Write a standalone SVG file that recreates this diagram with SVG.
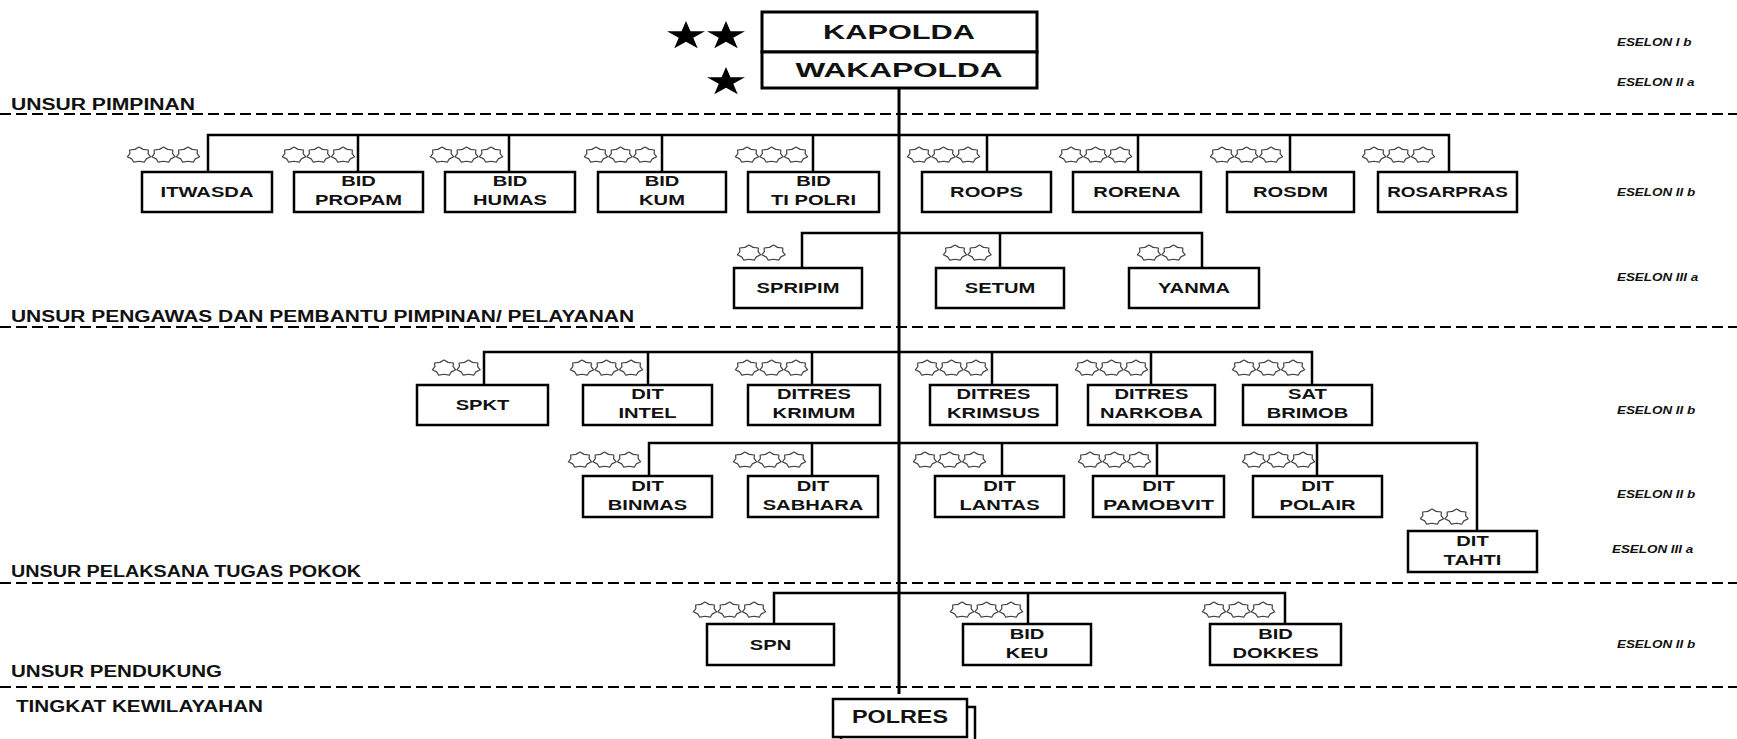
<svg xmlns="http://www.w3.org/2000/svg" xmlns:xlink="http://www.w3.org/1999/xlink" width="1737" height="739" viewBox="0 0 1737 739">
<style>
.bx{fill:#fff;stroke:#000;stroke-width:2.5}
.ln{fill:none;stroke:#000;stroke-width:2.5}
.main{fill:none;stroke:#000;stroke-width:3}
.dash{fill:none;stroke:#000;stroke-width:2;stroke-dasharray:11 5}
.t{font-family:"Liberation Sans",Arial,sans-serif;font-weight:bold;font-size:15.5px;text-anchor:middle;fill:#111}
.big{font-family:"Liberation Sans",Arial,sans-serif;font-weight:bold;font-size:21px;text-anchor:middle;fill:#111}
.sec{font-family:"Liberation Sans",Arial,sans-serif;font-weight:bold;font-size:16px;fill:#111}
.es{font-family:"Liberation Sans",Arial,sans-serif;font-weight:bold;font-style:italic;font-size:11px;fill:#111}
.os{fill:#fff;stroke:#444;stroke-width:1.2;stroke-linejoin:round}
</style>
<defs>
<polygon id="os" class="os" points="0,-8 4.06,-5.62 9.38,-4.99 9.12,-1.39 11.7,1.78 7.32,3.89 5.21,7.21 0,6.24 -5.21,7.21 -7.32,3.89 -11.7,1.78 -9.12,-1.39 -9.38,-4.99 -4.06,-5.62"/>
<polygon id="bs" fill="#000" points="0,-15 4.48,-4.64 18.98,-4.64 7.25,1.77 11.73,12.14 0,5.73 -11.73,12.14 -7.25,1.77 -18.98,-4.64 -4.48,-4.64"/>
</defs>
<rect x="0" y="0" width="1737" height="739" fill="#fff"/>

<g id="sections">
<line class="dash" x1="0" y1="114" x2="1737" y2="114"/>
<line class="dash" x1="0" y1="327" x2="1737" y2="327"/>
<line class="dash" x1="0" y1="583" x2="1737" y2="583"/>
<line class="dash" x1="0" y1="687" x2="1737" y2="687"/>
<text class="sec" x="11" y="110" textLength="184" lengthAdjust="spacingAndGlyphs">UNSUR PIMPINAN</text>
<text class="sec" x="11" y="322" textLength="623" lengthAdjust="spacingAndGlyphs">UNSUR PENGAWAS DAN PEMBANTU PIMPINAN/ PELAYANAN</text>
<text class="sec" x="11" y="577" textLength="350" lengthAdjust="spacingAndGlyphs">UNSUR PELAKSANA TUGAS POKOK</text>
<text class="sec" x="11" y="677" textLength="211" lengthAdjust="spacingAndGlyphs">UNSUR PENDUKUNG</text>
<text class="sec" x="16" y="712" textLength="247" lengthAdjust="spacingAndGlyphs">TINGKAT KEWILAYAHAN</text>
</g>

<g id="eselon">
<text class="es" transform="translate(1617,46) scale(1.22,1)">ESELON I b</text>
<text class="es" transform="translate(1617,86) scale(1.22,1)">ESELON II a</text>
<text class="es" transform="translate(1617,196) scale(1.22,1)">ESELON II b</text>
<text class="es" transform="translate(1617,281) scale(1.22,1)">ESELON III a</text>
<text class="es" transform="translate(1617,414) scale(1.22,1)">ESELON II b</text>
<text class="es" transform="translate(1617,498) scale(1.22,1)">ESELON II b</text>
<text class="es" transform="translate(1612,553) scale(1.22,1)">ESELON III a</text>
<text class="es" transform="translate(1617,648) scale(1.22,1)">ESELON II b</text>
</g>

<g id="connectors">
<line class="main" x1="899" y1="88" x2="899" y2="694"/>
<path class="ln" d="M208,172V135H1449V172M358,135V172M509,135V172M662,135V172M813,135V172M987,135V172M1138,135V172M1290,135V172"/>
<path class="ln" d="M802,268V233H1202V268M1000,233V268"/>
<path class="ln" d="M484,385V352H1312V385M648,352V385M812,352V385M992,352V385M1151,352V385"/>
<path class="ln" d="M649,476V443H1477V531M812,443V476M1002,443V476M1157,443V476M1317,443V476"/>
<path class="ln" d="M774,624V593H1285V624M1028,593V624"/>
</g>

<g id="n-kapolda">
<use href="#bs" x="686" y="36"/>
<use href="#bs" x="726" y="36"/>
<rect class="bx" x="762" y="12" width="275" height="40" style="stroke-width:3"/>
<text class="big" x="899" y="39" textLength="152" lengthAdjust="spacingAndGlyphs">KAPOLDA</text>
</g>
<g id="n-wakapolda">
<use href="#bs" x="726" y="82"/>
<rect class="bx" x="762" y="52" width="275" height="36" style="stroke-width:3"/>
<text class="big" x="899" y="77" textLength="207" lengthAdjust="spacingAndGlyphs">WAKAPOLDA</text>
</g>

<!-- Row 1 -->
<g id="n-itwasda">
<use href="#os" x="139" y="155"/><use href="#os" x="163.5" y="155"/><use href="#os" x="188" y="155"/>
<rect class="bx" x="142" y="172" width="130" height="40"/>
<text class="t" transform="translate(207,197) scale(1.3,1)">ITWASDA</text>
</g>
<g id="n-bidpropam">
<use href="#os" x="294" y="155"/><use href="#os" x="318.5" y="155"/><use href="#os" x="343" y="155"/>
<rect class="bx" x="294" y="172" width="129" height="40"/>
<text class="t" transform="translate(358.5,186) scale(1.3,1)">BID</text>
<text class="t" transform="translate(358.5,205) scale(1.3,1)">PROPAM</text>
</g>
<g id="n-bidhumas">
<use href="#os" x="442" y="155"/><use href="#os" x="466.5" y="155"/><use href="#os" x="491" y="155"/>
<rect class="bx" x="445" y="172" width="130" height="40"/>
<text class="t" transform="translate(510,186) scale(1.3,1)">BID</text>
<text class="t" transform="translate(510,205) scale(1.3,1)">HUMAS</text>
</g>
<g id="n-bidkum">
<use href="#os" x="596" y="155"/><use href="#os" x="620.5" y="155"/><use href="#os" x="645" y="155"/>
<rect class="bx" x="598" y="172" width="128" height="40"/>
<text class="t" transform="translate(662,186) scale(1.3,1)">BID</text>
<text class="t" transform="translate(662,205) scale(1.3,1)">KUM</text>
</g>
<g id="n-bidtipolri">
<use href="#os" x="747" y="155"/><use href="#os" x="771.5" y="155"/><use href="#os" x="796" y="155"/>
<rect class="bx" x="748" y="172" width="131" height="40"/>
<text class="t" transform="translate(813.5,186) scale(1.3,1)">BID</text>
<text class="t" transform="translate(813.5,205) scale(1.3,1)">TI POLRI</text>
</g>
<g id="n-roops">
<use href="#os" x="919" y="155"/><use href="#os" x="943.5" y="155"/><use href="#os" x="968" y="155"/>
<rect class="bx" x="922" y="172" width="129" height="40"/>
<text class="t" transform="translate(986.5,197) scale(1.3,1)">ROOPS</text>
</g>
<g id="n-rorena">
<use href="#os" x="1071" y="155"/><use href="#os" x="1095.5" y="155"/><use href="#os" x="1120" y="155"/>
<rect class="bx" x="1073" y="172" width="128" height="40"/>
<text class="t" transform="translate(1137,197) scale(1.3,1)">RORENA</text>
</g>
<g id="n-rosdm">
<use href="#os" x="1222" y="155"/><use href="#os" x="1246.5" y="155"/><use href="#os" x="1271" y="155"/>
<rect class="bx" x="1227" y="172" width="127" height="40"/>
<text class="t" transform="translate(1290.5,197) scale(1.3,1)">ROSDM</text>
</g>
<g id="n-rosarpras">
<use href="#os" x="1374" y="155"/><use href="#os" x="1398.5" y="155"/><use href="#os" x="1423" y="155"/>
<rect class="bx" x="1378" y="172" width="139" height="40"/>
<text class="t" transform="translate(1447.5,197) scale(1.22,1)">ROSARPRAS</text>
</g>

<!-- Row 2 -->
<g id="n-spripim">
<use href="#os" x="749" y="253"/><use href="#os" x="773.5" y="253"/>
<rect class="bx" x="734" y="268" width="128" height="40"/>
<text class="t" transform="translate(798,293) scale(1.3,1)">SPRIPIM</text>
</g>
<g id="n-setum">
<use href="#os" x="955" y="253"/><use href="#os" x="979.5" y="253"/>
<rect class="bx" x="936" y="268" width="128" height="40"/>
<text class="t" transform="translate(1000,293) scale(1.3,1)">SETUM</text>
</g>
<g id="n-yanma">
<use href="#os" x="1149" y="253"/><use href="#os" x="1173.5" y="253"/>
<rect class="bx" x="1129" y="268" width="130" height="40"/>
<text class="t" transform="translate(1194,293) scale(1.3,1)">YANMA</text>
</g>

<!-- Row 3 -->
<g id="n-spkt">
<use href="#os" x="444" y="368"/><use href="#os" x="468.5" y="368"/>
<rect class="bx" x="417" y="385" width="131" height="40"/>
<text class="t" transform="translate(482.5,410) scale(1.3,1)">SPKT</text>
</g>
<g id="n-ditintel">
<use href="#os" x="582" y="368"/><use href="#os" x="606.5" y="368"/><use href="#os" x="631" y="368"/>
<rect class="bx" x="583" y="385" width="129" height="40"/>
<text class="t" transform="translate(647.5,399) scale(1.3,1)">DIT</text>
<text class="t" transform="translate(647.5,418) scale(1.3,1)">INTEL</text>
</g>
<g id="n-ditreskrimum">
<use href="#os" x="747" y="368"/><use href="#os" x="771.5" y="368"/><use href="#os" x="796" y="368"/>
<rect class="bx" x="748" y="385" width="132" height="40"/>
<text class="t" transform="translate(814,399) scale(1.3,1)">DITRES</text>
<text class="t" transform="translate(814,418) scale(1.3,1)">KRIMUM</text>
</g>
<g id="n-ditreskrimsus">
<use href="#os" x="927" y="368"/><use href="#os" x="951.5" y="368"/><use href="#os" x="976" y="368"/>
<rect class="bx" x="930" y="385" width="127" height="40"/>
<text class="t" transform="translate(993.5,399) scale(1.3,1)">DITRES</text>
<text class="t" transform="translate(993.5,418) scale(1.3,1)">KRIMSUS</text>
</g>
<g id="n-ditresnarkoba">
<use href="#os" x="1087" y="368"/><use href="#os" x="1111.5" y="368"/><use href="#os" x="1136" y="368"/>
<rect class="bx" x="1088" y="385" width="127" height="40"/>
<text class="t" transform="translate(1151.5,399) scale(1.3,1)">DITRES</text>
<text class="t" transform="translate(1151.5,418) scale(1.3,1)">NARKOBA</text>
</g>
<g id="n-satbrimob">
<use href="#os" x="1244" y="368"/><use href="#os" x="1268.5" y="368"/><use href="#os" x="1293" y="368"/>
<rect class="bx" x="1243" y="385" width="129" height="40"/>
<text class="t" transform="translate(1307.5,399) scale(1.3,1)">SAT</text>
<text class="t" transform="translate(1307.5,418) scale(1.3,1)">BRIMOB</text>
</g>

<!-- Row 4 -->
<g id="n-ditbinmas">
<use href="#os" x="580" y="460"/><use href="#os" x="604.5" y="460"/><use href="#os" x="629" y="460"/>
<rect class="bx" x="583" y="476" width="129" height="41"/>
<text class="t" transform="translate(647.5,490.5) scale(1.3,1)">DIT</text>
<text class="t" transform="translate(647.5,509.5) scale(1.3,1)">BINMAS</text>
</g>
<g id="n-ditsabhara">
<use href="#os" x="745" y="460"/><use href="#os" x="769.5" y="460"/><use href="#os" x="794" y="460"/>
<rect class="bx" x="748" y="476" width="130" height="41"/>
<text class="t" transform="translate(813,490.5) scale(1.3,1)">DIT</text>
<text class="t" transform="translate(813,509.5) scale(1.3,1)">SABHARA</text>
</g>
<g id="n-ditlantas">
<use href="#os" x="925" y="460"/><use href="#os" x="949.5" y="460"/><use href="#os" x="974" y="460"/>
<rect class="bx" x="935" y="476" width="129" height="41"/>
<text class="t" transform="translate(999.5,490.5) scale(1.3,1)">DIT</text>
<text class="t" transform="translate(999.5,509.5) scale(1.3,1)">LANTAS</text>
</g>
<g id="n-ditpamobvit">
<use href="#os" x="1090" y="460"/><use href="#os" x="1114.5" y="460"/><use href="#os" x="1139" y="460"/>
<rect class="bx" x="1093" y="476" width="131" height="41"/>
<text class="t" transform="translate(1158.5,490.5) scale(1.3,1)">DIT</text>
<text class="t" transform="translate(1158.5,509.5) scale(1.38,1)">PAMOBVIT</text>
</g>
<g id="n-ditpolair">
<use href="#os" x="1254" y="460"/><use href="#os" x="1278.5" y="460"/><use href="#os" x="1303" y="460"/>
<rect class="bx" x="1253" y="476" width="129" height="41"/>
<text class="t" transform="translate(1317.5,490.5) scale(1.3,1)">DIT</text>
<text class="t" transform="translate(1317.5,509.5) scale(1.3,1)">POLAIR</text>
</g>
<g id="n-ditahti">
<use href="#os" x="1432" y="517"/><use href="#os" x="1456.5" y="517"/>
<rect class="bx" x="1408" y="531" width="129" height="41"/>
<text class="t" transform="translate(1472.5,545.5) scale(1.3,1)">DIT</text>
<text class="t" transform="translate(1472.5,564.5) scale(1.3,1)">TAHTI</text>
</g>

<!-- Row 5 -->
<g id="n-spn">
<use href="#os" x="705" y="610"/><use href="#os" x="729.5" y="610"/><use href="#os" x="754" y="610"/>
<rect class="bx" x="707" y="624" width="127" height="41"/>
<text class="t" transform="translate(770.5,650) scale(1.3,1)">SPN</text>
</g>
<g id="n-bidkeu">
<use href="#os" x="962" y="610"/><use href="#os" x="986.5" y="610"/><use href="#os" x="1011" y="610"/>
<rect class="bx" x="963" y="624" width="128" height="41"/>
<text class="t" transform="translate(1027,638.5) scale(1.3,1)">BID</text>
<text class="t" transform="translate(1027,657.5) scale(1.3,1)">KEU</text>
</g>
<g id="n-biddokkes">
<use href="#os" x="1214" y="610"/><use href="#os" x="1238.5" y="610"/><use href="#os" x="1263" y="610"/>
<rect class="bx" x="1210" y="624" width="131" height="41"/>
<text class="t" transform="translate(1275.5,638.5) scale(1.3,1)">BID</text>
<text class="t" transform="translate(1275.5,657.5) scale(1.3,1)">DOKKES</text>
</g>

<!-- POLRES -->
<g id="n-polres">
<rect class="bx" x="841" y="707" width="134" height="40"/>
<rect class="bx" x="833" y="699" width="134" height="38"/>
<text class="t" style="font-size:18px" transform="translate(900,723) scale(1.3,1)">POLRES</text>
</g>
</svg>
